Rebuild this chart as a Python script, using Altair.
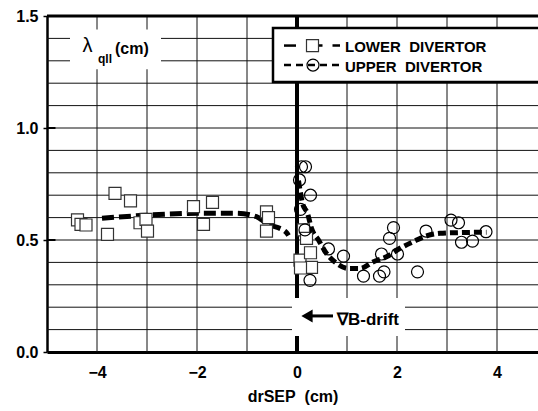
import altair as alt
import pandas as pd

# ---- data ----
lower_x = [-4.39, -4.32, -4.22, -3.79, -3.64, -3.33, -3.14, -3.02, -2.99, -2.07, -1.87, -1.69,
           -0.61, -0.57, -0.61, 0.13, 0.19, 0.06, 0.27, 0.29, 0.07]
lower_y = [0.59, 0.57, 0.567, 0.525, 0.708, 0.675, 0.577, 0.592, 0.54, 0.649, 0.57, 0.668,
           0.626, 0.60, 0.54, 0.545, 0.507, 0.41, 0.443, 0.378, 0.375]

upper_x = [0.09, 0.17, 0.05, 0.27, 0.07, 0.16, 0.63, 0.93, 0.26, 1.33, 1.65, 1.74, 1.69, 1.85,
           1.93, 2.01, 2.41, 2.58, 3.08, 3.23, 3.29, 3.51, 3.78]
upper_y = [0.827, 0.827, 0.768, 0.70, 0.637, 0.545, 0.46, 0.428, 0.32, 0.339, 0.339, 0.358,
           0.4375, 0.507, 0.555, 0.4375, 0.358, 0.54, 0.589, 0.577, 0.49, 0.495, 0.537]

lower_fit_x = [-3.9, -3.14, -1.94, -1.21, -0.81, -0.61, -0.21, -0.17]
lower_fit_y = [0.597, 0.609, 0.619, 0.619, 0.604, 0.574, 0.533, 0.52]

upper_fit_x = [0.03, 0.06, 0.11, 0.21, 0.29, 0.43, 0.59, 0.79, 1.03, 1.26, 1.53, 1.79, 2.06,
               2.33, 2.59, 2.86, 3.26, 3.79]
upper_fit_y = [0.765, 0.723, 0.664, 0.619, 0.552, 0.50, 0.44, 0.396, 0.373, 0.373, 0.403, 0.425,
               0.463, 0.493, 0.518, 0.53, 0.533, 0.535]

x_ticks = [-4, -2, 0, 2, 4]
y_ticks = [0.0, 0.5, 1.0, 1.5]
y_inner_ticks = [0.5, 1.0]
x_grid = [-4, -3, -2, -1, 1, 2, 3, 4]
y_grid = [0.1, 0.2, 0.3, 0.4, 0.5, 0.6, 0.7, 0.8, 0.9, 1.0, 1.1, 1.2, 1.3, 1.4]

FONT = "Liberation Sans"
X_DOMAIN = [-5, 4.82]
Y_DOMAIN = [0, 1.5]

x_axis = alt.Axis(values=x_ticks, format="d", title="drSEP\u00a0 (cm)", grid=False, ticks=False,
                  labelFont=FONT, labelFontSize=16, labelFontWeight="bold", labelColor="black",
                  labelPadding=12, labelFlush=False,
                  titleFont=FONT, titleFontSize=16, titleFontWeight="bold", titleColor="black",
                  titlePadding=8, domainColor="black", domainWidth=3)
y_axis = alt.Axis(values=y_ticks, format=".1f", title=None, grid=False, tickSize=4, tickWidth=1.5,
                  tickColor="black", labelFont=FONT, labelFontSize=16, labelFontWeight="bold",
                  labelColor="black", labelPadding=5, labelFlush=False,
                  domainColor="black", domainWidth=2.5)


def X(field):
    return alt.X(field, type="quantitative", axis=x_axis,
                 scale=alt.Scale(domain=X_DOMAIN, nice=False, zero=False))


def Y(field):
    return alt.Y(field, type="quantitative", axis=y_axis,
                 scale=alt.Scale(domain=Y_DOMAIN, nice=False, zero=False))


# grid
vgrid = alt.Chart(pd.DataFrame({"x": x_grid})).mark_rule(color="#111", strokeWidth=1).encode(x=X("x"))
hgrid = alt.Chart(pd.DataFrame({"y": y_grid})).mark_rule(color="#111", strokeWidth=1).encode(y=Y("y"))
inner_ticks = alt.Chart(pd.DataFrame({"y": y_inner_ticks, "x": [-5, -5], "x2": [-4.83, -4.83]})).mark_rule(
    color="black", strokeWidth=2).encode(x=X("x"), x2="x2", y=Y("y"))
zero_line = alt.Chart(pd.DataFrame({"x": [0]})).mark_rule(color="black", strokeWidth=4).encode(x=X("x"))
top_line = alt.Chart(pd.DataFrame({"y": [1.5]})).mark_rule(color="black", strokeWidth=3).encode(y=Y("y"))

# white boxes behind annotations
boxes = alt.Chart(pd.DataFrame({
    "x": [-4.54, -0.1], "x2": [-2.72, 2.16], "y": [1.44, 0.241], "y2": [1.262, 0.071]
})).mark_rect(fill="white").encode(x=X("x"), x2="x2", y=Y("y"), y2="y2")

lam = alt.Chart(pd.DataFrame({"x": [-4.29], "y": [1.339], "t": ["λ"]})).mark_text(
    align="left", baseline="alphabetic", font=FONT, fontSize=20, color="black"
).encode(x=X("x"), y=Y("y"), text="t")
lam_sub = alt.Chart(pd.DataFrame({"x": [-3.98], "y": [1.29], "t": ["qll"]})).mark_text(
    align="left", baseline="alphabetic", font=FONT, fontSize=12, fontWeight="bold", color="black"
).encode(x=X("x"), y=Y("y"), text="t")
lam_unit = alt.Chart(pd.DataFrame({"x": [-3.64], "y": [1.33], "t": ["(cm)"]})).mark_text(
    align="left", baseline="alphabetic", font=FONT, fontSize=16, fontWeight="bold", color="black"
).encode(x=X("x"), y=Y("y"), text="t")

# grad-B drift arrow
arrow_shaft = alt.Chart(pd.DataFrame({"x": [0.22], "x2": [0.72], "y": [0.161]})).mark_rule(
    color="black", strokeWidth=3).encode(x=X("x"), x2="x2", y=Y("y"))
arrow_head = alt.Chart(pd.DataFrame({"x": [0.2], "y": [0.161]})).mark_point(
    shape="triangle-left", size=170, filled=True, color="black", opacity=1).encode(x=X("x"), y=Y("y"))
drift_text = alt.Chart(pd.DataFrame({"x": [0.8], "y": [0.12], "t": ["∇B-drift"]})).mark_text(
    align="left", baseline="alphabetic", font=FONT, fontSize=17, fontWeight="bold", color="black"
).encode(x=X("x"), y=Y("y"), text="t")

# fitted curves
lower_fit = alt.Chart(pd.DataFrame({"x": lower_fit_x, "y": lower_fit_y})).mark_line(
    color="black", strokeWidth=5, strokeDash=[12, 5], interpolate="monotone"
).encode(x=X("x"), y=Y("y"))
upper_fit = alt.Chart(pd.DataFrame({"x": upper_fit_x, "y": upper_fit_y})).mark_line(
    color="black", strokeWidth=5, strokeDash=[8, 4], interpolate="monotone"
).encode(x=X("x"), y=Y("y"))

# data points
lower_pts = alt.Chart(pd.DataFrame({"x": lower_x, "y": lower_y})).mark_point(
    shape="square", size=144, filled=True, fill="white", stroke="#333", strokeWidth=1.2, opacity=1
).encode(x=X("x"), y=Y("y"))
upper_pts = alt.Chart(pd.DataFrame({"x": upper_x, "y": upper_y})).mark_point(
    shape="circle", size=144, color="black", strokeWidth=1.2, opacity=1
).encode(x=X("x"), y=Y("y"))

# legend
leg_box = alt.Chart(pd.DataFrame({"x": [-0.48], "x2": [5.0], "y": [1.446], "y2": [1.205]})).mark_rect(
    fill="white", stroke="black", strokeWidth=2.5).encode(x=X("x"), x2="x2", y=Y("y"), y2="y2")
leg_solid = alt.Chart(pd.DataFrame({"x": [-0.26], "x2": [-0.02], "y": [1.368]})).mark_rule(
    color="black", strokeWidth=2.5).encode(x=X("x"), x2="x2", y=Y("y"))
leg_dash1 = alt.Chart(pd.DataFrame({"x": [0.31], "x2": [0.86], "y": [1.368]})).mark_rule(
    color="black", strokeWidth=2.5, strokeDash=[10, 10]).encode(x=X("x"), x2="x2", y=Y("y"))
leg_dash2 = alt.Chart(pd.DataFrame({"x": [-0.26], "x2": [0.86], "y": [1.281]})).mark_rule(
    color="black", strokeWidth=2.5, strokeDash=[7, 5]).encode(x=X("x"), x2="x2", y=Y("y"))
leg_sq = alt.Chart(pd.DataFrame({"x": [0.31], "y": [1.368]})).mark_point(
    shape="square", size=144, filled=True, fill="white", stroke="#333", strokeWidth=1.2, opacity=1
).encode(x=X("x"), y=Y("y"))
leg_ci = alt.Chart(pd.DataFrame({"x": [0.32], "y": [1.281]})).mark_point(
    shape="circle", size=144, color="black", strokeWidth=1.2, opacity=1
).encode(x=X("x"), y=Y("y"))
leg_text = alt.Chart(pd.DataFrame({
    "x": [0.96, 0.96], "y": [1.339, 1.25],
    "t": ["LOWER\u00a0 DIVERTOR", "UPPER\u00a0 DIVERTOR"]
})).mark_text(align="left", baseline="alphabetic", font=FONT, fontSize=15, fontWeight="bold",
              color="black").encode(x=X("x"), y=Y("y"), text="t")

chart = alt.layer(
    vgrid, hgrid, inner_ticks, zero_line, top_line, boxes, lam, lam_sub, lam_unit,
    arrow_shaft, arrow_head, drift_text,
    lower_fit, upper_fit, lower_pts, upper_pts,
    leg_box, leg_solid, leg_dash1, leg_dash2, leg_sq, leg_ci, leg_text
).properties(
    width=491, height=336,
    autosize=alt.AutoSizeParams(type="none"),
    padding={"left": 47, "top": 16, "right": 0, "bottom": 59},
    background="white",
).configure_view(stroke=None)

chart.save("out.html", embed_options={"renderer": "svg", "actions": False})
